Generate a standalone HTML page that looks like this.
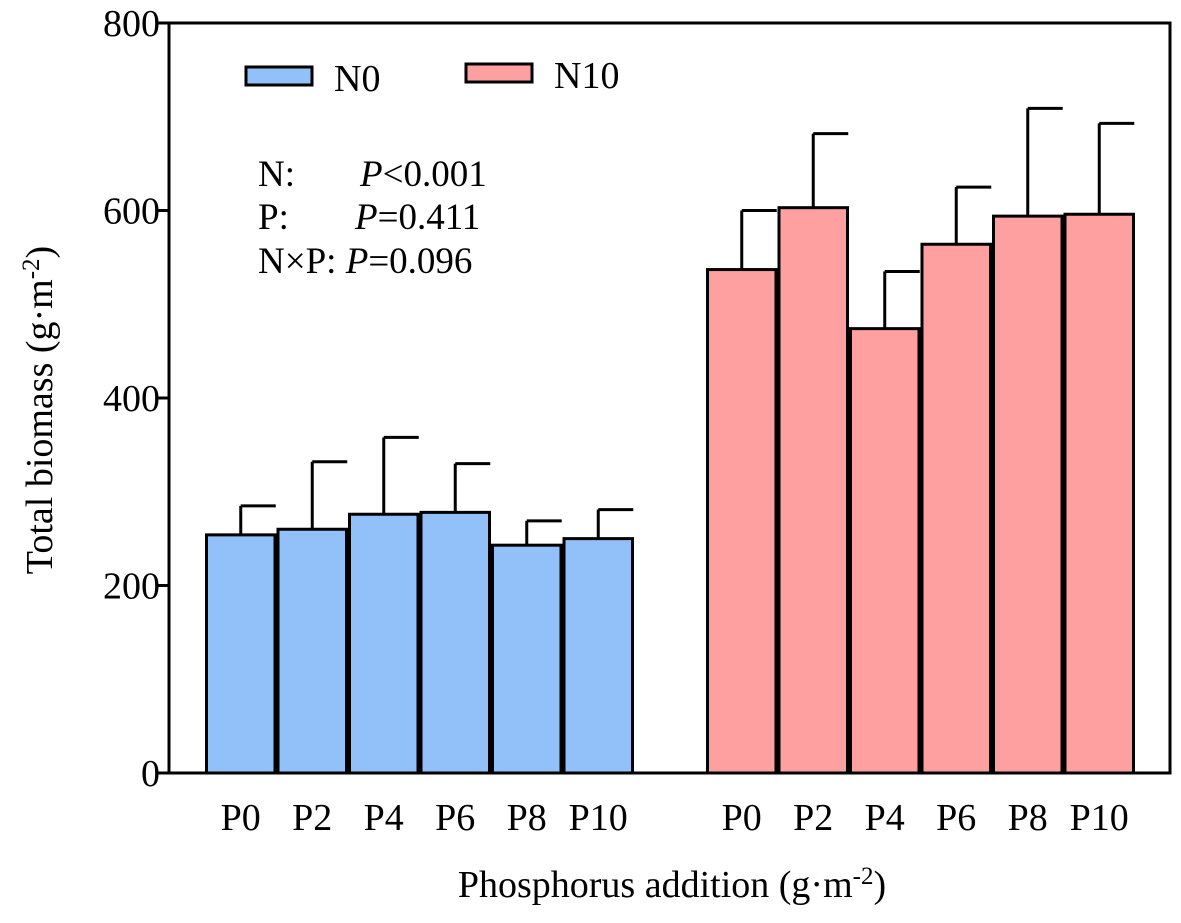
<!DOCTYPE html>
<html><head><meta charset="utf-8"><style>
body{margin:0;background:#fff}
svg text{font-family:"Liberation Serif",serif;fill:#000}
</style></head><body>
<svg width="1181" height="918" xmlns="http://www.w3.org/2000/svg">
<rect x="169" y="23" width="1001" height="750" fill="none" stroke="#000" stroke-width="3"/>
<g id="yaxis"></g>
<g id="bars"></g>
<g id="xlabels"></g>
<g>
<rect x="246" y="67" width="66" height="18" fill="#92c0f8" stroke="#000" stroke-width="3"/>
<text x="334" y="91" font-size="38">N0</text>
<rect x="466" y="64" width="66" height="18" fill="#fea0a0" stroke="#000" stroke-width="3"/>
<text x="554" y="88" font-size="38">N10</text>
</g>
<g font-size="37">
<text x="258" y="186">N:<tspan x="360" font-style="italic">P</tspan>&lt;0.001</text>
<text x="258" y="229">P:<tspan x="355" font-style="italic">P</tspan>=0.411</text>
<text x="258" y="273">N×P: <tspan font-style="italic">P</tspan>=0.096</text>
</g>
<text x="672" y="897" font-size="38" text-anchor="middle">Phosphorus addition  (g·m<tspan dy="-13" font-size="25">-2</tspan><tspan dy="13">)</tspan></text>
<text transform="translate(52,410) rotate(-90)" font-size="38" text-anchor="middle">Total biomass  (g·m<tspan dy="-13" font-size="25">-2</tspan><tspan dy="13">)</tspan></text>
</svg>
<script>
const categories=["P0","P2","P4","P6","P8","P10"];
const n0Values=[254,260,276,278,243,250];
const n0ErrTop=[285,332,358,330,269,281];
const n10Values=[537,603,474,564,594,596];
const n10ErrTop=[600,682,535,625,709,693];
const yTicks=[0,200,400,600,800];
const NS="http://www.w3.org/2000/svg";
const y0=773,yTop=23,yMax=800;
const y=v=>y0-(v/yMax)*(y0-yTop);
const barW=71.5;
const groupStart=[205,706];
function mk(tag,attrs,parent){const e=document.createElementNS(NS,tag);for(const k in attrs)e.setAttribute(k,attrs[k]);parent.appendChild(e);return e;}
const ya=document.getElementById('yaxis');
yTicks.forEach(t=>{
  const l=mk('line',{x1:157,x2:169,y1:y(t),y2:y(t),stroke:'#000','stroke-width':3},ya);
  
  
  const tx=mk('text',{x:160,y:y(t)+13,'font-size':38,'text-anchor':'end'},ya);
  tx.textContent=t;
  
  
});
const bg=document.getElementById('bars');
const xl=document.getElementById('xlabels');
[[n0Values,n0ErrTop,'#92c0f8','n0'],[n10Values,n10ErrTop,'#fea0a0','n10']].forEach((s,gi)=>{
  categories.forEach((c,i)=>{
    const x=groupStart[gi]+i*barW;
    const cx=x+barW/2;
    const e=mk('line',{x1:cx,x2:cx,y1:y(s[0][i]),y2:y(s[1][i]),stroke:'#000','stroke-width':3},bg);
    
    
    const cap=mk('line',{x1:cx,x2:cx+35,y1:y(s[1][i]),y2:y(s[1][i]),stroke:'#000','stroke-width':3},bg);
    
    
    const r=mk('rect',{x:x+1.5,y:y(s[0][i]),width:barW-3,height:y0-y(s[0][i]),fill:s[2],stroke:'#000','stroke-width':3},bg);
    
    
    const t=mk('text',{x:cx,y:830,'font-size':38,'text-anchor':'middle'},xl);
    t.textContent=c;
    
    
  });
});
</script>
</body></html>
